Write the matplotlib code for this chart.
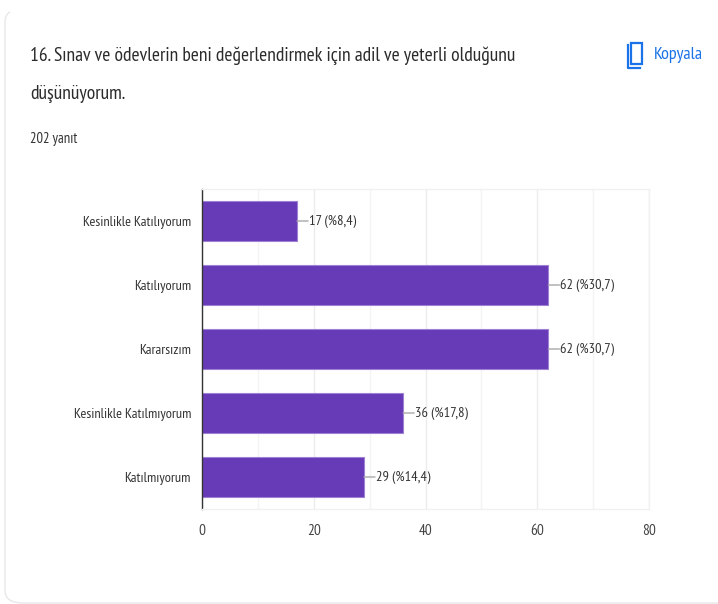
import matplotlib
matplotlib.use("Agg")
import matplotlib.pyplot as plt
from matplotlib.patches import FancyBboxPatch, Rectangle

categories = ["Kesinlikle Katılıyorum", "Katılıyorum", "Kararsızım", "Kesinlikle Katılmıyorum", "Katılmıyorum"]
counts = [17, 62, 62, 36, 29]
percents = ["%8,4", "%30,7", "%30,7", "%17,8", "%14,4"]
major_ticks = [0, 20, 40, 60, 80]
minor_ticks = [10, 30, 50, 70]
title_lines = ["16. Sınav ve ödevlerin beni değerlendirmek için adil ve yeterli olduğunu", "düşünüyorum."]
subtitle = "202 yanıt"
copy_label = "Kopyala"

W, H = 718, 604
plt.rcParams["font.family"] = ["PT Sans Narrow", "Roboto Condensed", "Liberation Sans", "DejaVu Sans"]
fig = plt.figure(figsize=(W / 100, H / 100), dpi=100, facecolor="white")

def fx(x): return x / W
def fy(y): return 1 - y / H

# card outline: only the left side and bottom show in the reference
card = FancyBboxPatch((fx(5), fy(603)), 760 / W, 594 / H,
                      boxstyle="round,pad=0,rounding_size=0.025",
                      transform=fig.transFigure, fc="white", ec="#e8e8e8", lw=1.0,
                      mutation_aspect=H / W, zorder=-5)
fig.add_artist(card)
fig.add_artist(Rectangle((fx(10), fy(16)), 708 / W, 16 / H, transform=fig.transFigure,
                         fc="white", ec="none", zorder=-4))

fig.text(fx(30), fy(56), title_lines[0], fontsize=14, color="#2b2b2b", va="center", ha="left")
fig.text(fx(30), fy(94), title_lines[1], fontsize=14, color="#2b2b2b", va="center", ha="left")
fig.text(fx(30), fy(139), subtitle, fontsize=10.5, color="#333333", va="center", ha="left")
fig.text(fx(654), fy(55), copy_label, fontsize=13, color="#1a73e8", va="center", ha="left")

# copy icon
fig.add_artist(Rectangle((fx(631), fy(64)), 11 / W, 21 / H, transform=fig.transFigure,
                         fc="none", ec="#1a73e8", lw=1.6))
fig.add_artist(plt.Line2D([fx(627.5), fx(627.5), fx(640)], [fy(45), fy(68), fy(68)],
                          transform=fig.transFigure, color="#1a73e8", lw=1.6))

ax = fig.add_axes([fx(202), fy(509), 447 / W, 320 / H], zorder=5)
ax.patch.set_alpha(0)
ax.set_xlim(0, 80)
ax.set_ylim(len(categories) - 0.5, -0.5)
ax.set_axisbelow(True)
ax.set_xticks(major_ticks)
ax.set_xticks(minor_ticks, minor=True)
ax.grid(True, axis="x", which="major", color="#ececec", lw=1)
ax.grid(True, axis="x", which="minor", color="#f4f4f4", lw=1)

ax.barh(range(len(categories)), counts, height=0.625, color="#673ab7", edgecolor="#9e80d4", linewidth=0.8)

ax.set_yticks(range(len(categories)))
ax.set_yticklabels(categories)
ax.tick_params(axis="y", length=0, pad=8, labelsize=10.3, labelcolor="#333333")
ax.tick_params(axis="x", which="both", length=0, pad=11, labelsize=11, labelcolor="#444444")

for s in ["top", "right", "bottom"]:
    ax.spines[s].set_color("#f1f1f1")
    ax.spines[s].set_linewidth(1)
ax.spines["left"].set_color("#333333")
ax.spines["left"].set_linewidth(1)

for i, (c, p) in enumerate(zip(counts, percents)):
    ax.annotate(f"{c} ({p})", xy=(c, i), xytext=(12, -1), textcoords="offset pixels",
                fontsize=10.4, color="#333333", va="center", ha="left", annotation_clip=False)
    ax.annotate("", xy=(c, i), xytext=(11, 0), textcoords="offset pixels",
                arrowprops=dict(arrowstyle="-", color="#a8a8a8", lw=1, shrinkA=0, shrinkB=0))

fig.savefig("out.png", dpi=100)
